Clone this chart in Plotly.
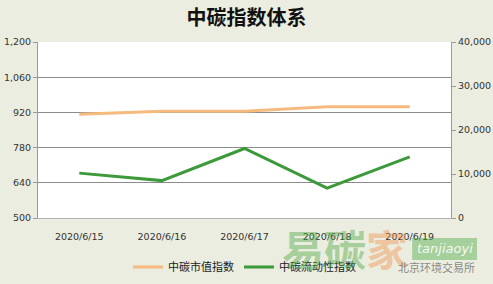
import plotly.graph_objects as go

dates = ["2020/6/15", "2020/6/16", "2020/6/17", "2020/6/18", "2020/6/19"]
market_value_index = [913, 925, 925, 942, 942]
liquidity_index = [10200, 8500, 15800, 6800, 13900]

left_ticks = [500, 640, 780, 920, 1060, 1200]
right_ticks = [0, 10000, 20000, 30000, 40000]

BG = "#EBEDE0"
GRID = "#8C8C8C"
TICK_FONT = dict(family="DejaVu Sans", size=9.5, color="#333333")

fig = go.Figure()
fig.add_trace(go.Scatter(
    x=dates, y=market_value_index, name="中碳市值指数", mode="lines",
    line=dict(color="#F6BA7F", width=3), yaxis="y",
))
fig.add_trace(go.Scatter(
    x=dates, y=liquidity_index, name="中碳流动性指数", mode="lines",
    line=dict(color="#3C9A3A", width=3), yaxis="y2",
))

fig.update_layout(
    width=493, height=284,
    margin=dict(l=38, r=42, t=42, b=66, autoexpand=False),
    paper_bgcolor=BG, plot_bgcolor="white",
    title=dict(text="<b>中碳指数体系</b>", x=0.5, xanchor="center", y=0.935, yanchor="middle",
               font=dict(family="Noto Sans CJK SC", size=20, color="#111111")),
    xaxis=dict(type="category", range=[-0.5, 4.5], showgrid=False,
               showline=True, linecolor="#B0B0B0", linewidth=1, automargin=False,
               ticks="", tickfont=TICK_FONT, ticklabelstandoff=10),
    yaxis=dict(range=[500, 1200], tickvals=left_ticks,
               ticktext=[f"{v:,}" for v in left_ticks], automargin=False,
               showgrid=True, gridcolor=GRID, gridwidth=1,
               showline=True, linecolor="#9A9A9A", linewidth=1,
               ticks="outside", ticklen=4, tickcolor="#9A9A9A",
               tickfont=TICK_FONT, zeroline=False),
    yaxis2=dict(range=[0, 40000], tickvals=right_ticks,
                ticktext=[f"{v:,}" for v in right_ticks], automargin=False,
                overlaying="y", side="right", showgrid=False,
                showline=True, linecolor="#9A9A9A", linewidth=1,
                ticks="outside", ticklen=4, tickcolor="#9A9A9A",
                tickfont=TICK_FONT, zeroline=False),
    legend=dict(orientation="h", x=0.5, xanchor="center", y=-0.278, yanchor="middle",
                bgcolor="rgba(0,0,0,0)", font=dict(family="Noto Sans CJK SC", size=11, color="#222222"),
                itemwidth=30, tracegroupgap=0),
    showlegend=True,
)

# Site watermark in the lower right corner
fig.add_annotation(xref="paper", yref="paper", x=0.743, y=-0.17, xanchor="center", yanchor="middle",
                   text="<b><span style='color:rgba(80,170,70,0.45)'>易碳</span>"
                        "<span style='color:rgba(240,150,80,0.45)'>家</span></b>",
                   showarrow=False, font=dict(family="Noto Sans CJK SC", size=42))
fig.add_shape(type="rect", xref="paper", yref="paper", x0=0.906, x1=1.063, y0=-0.114, y1=-0.239,
              fillcolor="rgba(80,170,70,0.45)", line=dict(width=0), layer="above")
fig.add_annotation(xref="paper", yref="paper", x=0.985, y=-0.175, xanchor="center", yanchor="middle",
                   text="<i>tanjiaoyi</i>", showarrow=False,
                   font=dict(family="DejaVu Sans", size=13, color="rgba(255,255,255,0.9)"))
fig.add_annotation(xref="paper", yref="paper", x=0.966, y=-0.278, xanchor="center", yanchor="middle",
                   text="北京环境交易所", showarrow=False,
                   font=dict(family="Noto Sans CJK SC", size=11, color="rgba(90,90,90,0.7)"))

fig.write_html("out.html")
